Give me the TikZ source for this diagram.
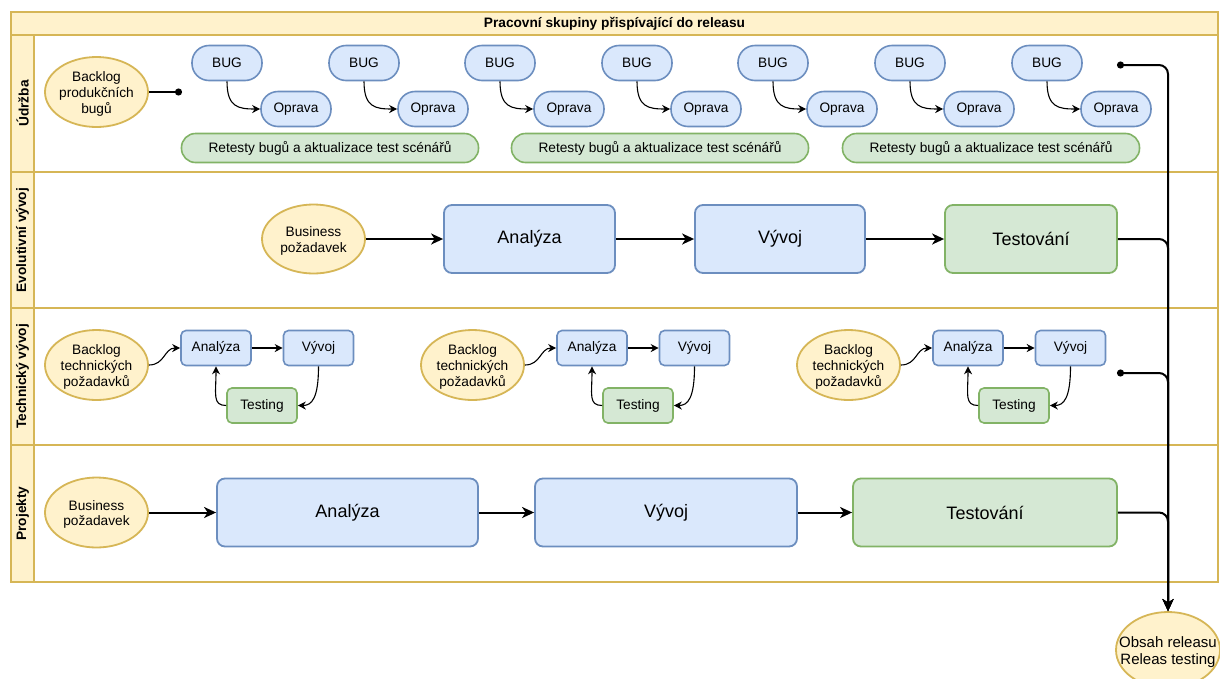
\documentclass[tikz,border=0pt]{standalone}
\usepackage{fontspec}
\setmainfont{Liberation Sans}
\usetikzlibrary{arrows.meta,shapes.geometric}
\definecolor{yf}{HTML}{FFF2CC}\definecolor{ys}{HTML}{D6B656}
\definecolor{bf}{HTML}{DAE8FC}\definecolor{bs}{HTML}{6C8EBF}
\definecolor{gf}{HTML}{D5E8D4}\definecolor{gs}{HTML}{82B366}
\newcommand{\fsN}{\fontsize{13.7}{15.8}\selectfont}
\newcommand{\fsB}{\fontsize{18}{21}\selectfont}
\newcommand{\fsR}{\fontsize{15}{17}\selectfont}
\newcommand{\zb}[1]{\raisebox{\dimexpr-0.25em-2.5pt\relax}[0pt][0pt]{\makebox[0pt]{\begin{tabular}{@{}c@{}}#1\end{tabular}}}}
\tikzset{
  lanebox/.style={draw=ys, line width=2pt},
  lanelab/.style={draw=ys, fill=yf, line width=2pt, rotate=90, minimum height=23pt, inner sep=0pt, font=\fsN\bfseries},
  titlebar/.style={draw=ys, fill=yf, line width=2pt, minimum width=1207pt, minimum height=23pt, inner sep=0pt, font=\fsN\bfseries},
  yell/.style={ellipse, draw=ys, fill=yf, line width=1.8pt, minimum width=103pt, minimum height=70pt, inner sep=0pt},
  pill/.style={draw=bs, fill=bf, line width=1.6pt, rounded corners=17pt, minimum width=70pt, minimum height=35pt, inner sep=0pt, font=\fsN},
  gpill/.style={draw=gs, fill=gf, line width=1.6pt, rounded corners=14pt, minimum width=297pt, minimum height=29pt, inner sep=0pt, font=\fsN},
  bigb/.style={draw=bs, fill=bf, line width=1.8pt, rounded corners=8pt, minimum height=68pt, inner sep=0pt, font=\fsB},
  bigg/.style={draw=gs, fill=gf, line width=1.8pt, rounded corners=8pt, minimum height=68pt, inner sep=0pt, font=\fsB},
  smb/.style={draw=bs, fill=bf, line width=1.6pt, rounded corners=5pt, minimum width=70pt, minimum height=35pt, inner sep=0pt, font=\fsN},
  smg/.style={draw=gs, fill=gf, line width=1.6pt, rounded corners=5pt, minimum width=70pt, minimum height=35pt, inner sep=0pt, font=\fsN},
  thin/.style={line width=1.1pt, -{Stealth[length=8pt,width=8pt,inset=2.5pt]}},
  thick/.style={line width=2pt, -{Stealth[length=12pt,width=11pt,inset=3.5pt]}},
  trunk/.style={line width=2pt, rounded corners=9pt, -{Stealth[length=12pt,width=11pt,inset=3.5pt]}},
}
\begin{document}
\begin{tikzpicture}[x=1pt,y=-1pt]
\useasboundingbox (0,0) rectangle (1220,678);
\fill[white] (0,0) rectangle (1220,678);
% pool and lanes
\draw[lanebox] (11,12) rectangle (1218,582);
\draw[lanebox] (11,172) -- (1218,172);
\draw[lanebox] (11,308) -- (1218,308);
\draw[lanebox] (11,445) -- (1218,445);
\node[titlebar] (title) at (614.5,23.5) {Pracovní skupiny přispívající do releasu};
\node[lanelab, minimum width=137pt] (l1) at (22.5,103.5) {Údržba};
\node[lanelab, minimum width=136pt] (l2) at (22.5,240) {Evolutivní vývoj};
\node[lanelab, minimum width=137pt] (l3) at (22.5,376.5) {Technický vývoj};
\node[lanelab, minimum width=137pt] (l4) at (22.5,513.5) {Projekty};

% Udrzba
\node[yell, font=\fsN] (bl) at (96.5,92) {\zb{Backlog\\produkčních\\bugů}};
\coordinate (ud1) at (182,92);
\draw[line width=2pt, -{Circle[length=7pt]}] (bl.east) -- (ud1);
\foreach \i/\bx in {1/227,2/364,3/500,4/637,5/773,6/910,7/1047}{
  \node[pill] (b\i) at (\bx,63) {BUG};
  \node[pill] (o\i) at (\bx+69,109) {Oprava};
  \draw[thin] (b\i.south) .. controls +(0,26) and +(-22,0) .. (o\i.west);
}
\node[gpill] (r1) at (330,148) {Retesty bugů a aktualizace test scénářů};
\node[gpill] (r2) at (660,148) {Retesty bugů a aktualizace test scénářů};
\node[gpill] (r3) at (991,148) {Retesty bugů a aktualizace test scénářů};
\coordinate (ud2) at (1117,65);

% Evolutivni vyvoj
\node[yell, font=\fsN, minimum height=69pt] (eb) at (313.5,239) {\zb{Business\\požadavek}};
\node[bigb, minimum width=171pt] (ea) at (529.5,239) {Analýza};
\node[bigb, minimum width=170pt] (ev) at (780,239) {Vývoj};
\node[bigg, minimum width=172pt] (et) at (1031,239) {Testování};
\draw[thick] (eb.east) -- (ea.west);
\draw[thick] (ea.east) -- (ev.west);
\draw[thick] (ev.east) -- (et.west);

% Technicky vyvoj
\foreach \g/\d in {1/0,2/376,3/752}{
  \node[yell, font=\fsN] (tb\g) at (96.5+\d,365) {\zb{Backlog\\technických\\požadavků}};
  \node[smb] (ta\g) at (216+\d,348) {Analýza};
  \node[smb] (tv\g) at (318.5+\d,348) {Vývoj};
  \node[smg] (tt\g) at (262+\d,405.5) {Testing};
  \draw[thin] (tb\g.east) .. controls +(16,0) and +(-16,0) .. (ta\g.west);
  \draw[thin] (ta\g.east) -- (tv\g.west);
  \draw[thin] (tv\g.south) .. controls +(0,32) and +(14,0) .. (tt\g.east);
  \draw[thin] (tt\g.west) .. controls +(-14,0) and +(0,28) .. (ta\g.south);
}
\coordinate (tc) at (1117,373);

% Projekty
\node[yell, font=\fsN] (pb) at (96.5,512.5) {\zb{Business\\požadavek}};
\node[bigb, minimum width=261pt] (pa) at (347.5,512.5) {Analýza};
\node[bigb, minimum width=262pt] (pv) at (666,512.5) {Vývoj};
\node[bigg, minimum width=264pt] (pt) at (985,512.5) {Testování};
\draw[thick] (pb.east) -- (pa.west);
\draw[thick] (pa.east) -- (pv.west);
\draw[thick] (pv.east) -- (pt.west);

% Release
\node[yell, minimum width=104pt, minimum height=76pt, font=\fsR] (rel) at (1168,650) {\zb{Obsah releasu\\Releas testing}};
\draw[trunk, {Circle[length=7pt]}-{Stealth[length=12pt,width=11pt,inset=3.5pt]}] (ud2) -| (rel.north);
\draw[trunk] (et.east) -| (rel.north);
\draw[trunk, {Circle[length=7pt]}-{Stealth[length=12pt,width=11pt,inset=3.5pt]}] (tc) -| (rel.north);
\draw[trunk] (pt.east) -| (rel.north);
\end{tikzpicture}
\end{document}
